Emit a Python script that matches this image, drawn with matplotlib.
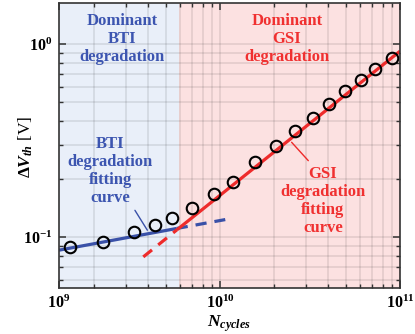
import numpy as np
import matplotlib.pyplot as plt
from matplotlib.ticker import LogLocator, NullFormatter, FixedLocator, FixedFormatter

plt.rcParams['font.family'] = ['Liberation Serif', 'DejaVu Serif']
plt.rcParams['font.weight'] = 'bold'
plt.rcParams['mathtext.fontset'] = 'custom'
plt.rcParams['mathtext.rm'] = 'Liberation Serif:bold'
plt.rcParams['mathtext.it'] = 'Liberation Serif:bold:italic'
plt.rcParams['mathtext.bf'] = 'Liberation Serif:bold'

# Measured data points
n_cycles = [1.46e9, 2.25e9, 3.33e9, 4.35e9, 5.41e9, 7.01e9, 9.23e9, 1.18e10, 1.56e10,
            2.05e10, 2.61e10, 3.27e10, 4.02e10, 4.95e10, 6.05e10, 7.26e10, 9.06e10]
dvth = [0.089, 0.095, 0.106, 0.115, 0.126, 0.142, 0.167, 0.194, 0.245,
        0.298, 0.356, 0.416, 0.489, 0.568, 0.652, 0.741, 0.850]

# Fitting curves (end points)
bti_x = [1.276e9, 5.75e9]
bti_y = [0.0857, 0.111]
bti_ext_x = [5.75e9, 1.07e10]
bti_ext_y = [0.111, 0.1234]
gsi_x = [5.75e9, 1.0e11]
gsi_y = [0.109, 0.918]
gsi_ext_x = [3.75e9, 5.75e9]
gsi_ext_y = [0.0791, 0.109]

# Region boundary
x_min, x_split, x_max = 1.276e9, 5.9e9, 1.0e11
y_min, y_max = 0.0546, 1.63

blue = '#3a51a8'
red = '#ee2b2b'
blue_txt = '#3c55b0'
red_txt = '#f03030'

fig = plt.figure(figsize=(4.15, 3.34), dpi=100)
ax = fig.add_axes([59 / 415, 1 - 288 / 334, 341 / 415, 285 / 334])

ax.set_xscale('log')
ax.set_yscale('log')
ax.set_xlim(x_min, x_max)
ax.set_ylim(y_min, y_max)

ax.axvspan(x_min, x_split, color='#e9eff9', zorder=0, lw=0)
ax.axvspan(x_split, x_max, color='#fce1e1', zorder=0, lw=0)

ax.xaxis.set_major_locator(FixedLocator([x_min, 1e10, 1e11]))
ax.xaxis.set_major_formatter(FixedFormatter(['$10^9$', '$10^{10}$', '$10^{11}$']))
ax.xaxis.set_minor_locator(LogLocator(base=10, subs=np.arange(2, 10)))
ax.xaxis.set_minor_formatter(NullFormatter())
ax.yaxis.set_major_locator(FixedLocator([0.1, 1.0]))
ax.yaxis.set_major_formatter(FixedFormatter(['$10^{-1}$', '$10^0$']))
ax.yaxis.set_minor_locator(LogLocator(base=10, subs=np.arange(2, 10)))
ax.yaxis.set_minor_formatter(NullFormatter())

ax.grid(True, which='both', color='#000000', alpha=0.09, lw=1.3, zorder=1)
ax.set_axisbelow(True)
# grid line at the left edge tick is not a real grid line
ax.xaxis.get_gridlines()[0].set_visible(False)

ax.tick_params(which='both', direction='in', top=True, right=True, color='#333333',
               labelsize=11.5, pad=5)
ax.tick_params(which='major', length=5, width=1.1)
ax.tick_params(which='minor', length=3, width=1.0)
for s in ax.spines.values():
    s.set_color('#333333')
    s.set_linewidth(1.2)
    s.set_zorder(5)

# fitting lines
ax.plot(bti_x, bti_y, color=blue, lw=2.3, zorder=3, solid_capstyle='butt')
ax.plot(bti_ext_x, bti_ext_y, color=blue, lw=2.3, ls=(0, (3.5, 2.5)), zorder=3)
ax.plot(gsi_x, gsi_y, color=red, lw=2.3, zorder=3, solid_capstyle='butt')
ax.plot(gsi_ext_x, gsi_ext_y, color=red, lw=2.3, ls=(0, (3.5, 2.5)), zorder=3)

ax.plot(n_cycles, dvth, 'o', ms=8.3, mfc='none', mec='black', mew=1.5, zorder=4)

# text labels
tk = dict(ha='center', va='center', fontsize=12, fontweight='bold',
          linespacing=1.15, transform=ax.transAxes)
ax.text(0.184, 0.873, 'Dominant\nBTI\ndegradation', color=blue_txt, **tk)
ax.text(0.668, 0.873, 'Dominant\nGSI\ndegradation', color=red_txt, **tk)
ax.text(0.150, 0.41, 'BTI\ndegradation\nfitting\ncurve', color=blue_txt, **tk)
ax.text(0.774, 0.305, 'GSI\ndegradation\nfitting\ncurve', color=red_txt, **tk)

ax.annotate('', xy=(3.95e9, 0.1087), xytext=(3.37e9, 0.1378),
            arrowprops=dict(arrowstyle='-', color=blue, lw=1.0, shrinkA=0, shrinkB=0))
ax.annotate('', xy=(3.095e10, 0.249), xytext=(2.50e10, 0.310),
            arrowprops=dict(arrowstyle='-', color=red, lw=1.0, shrinkA=0, shrinkB=0))

ax.set_xlabel('$N_{cycles}$', fontsize=12.5, labelpad=1)
ax.set_ylabel(r'$\Delta V_{th}$ [V]', fontsize=12.5)
ax.yaxis.set_label_coords(-0.07, 0.495)

fig.savefig('out.png', dpi=100)
